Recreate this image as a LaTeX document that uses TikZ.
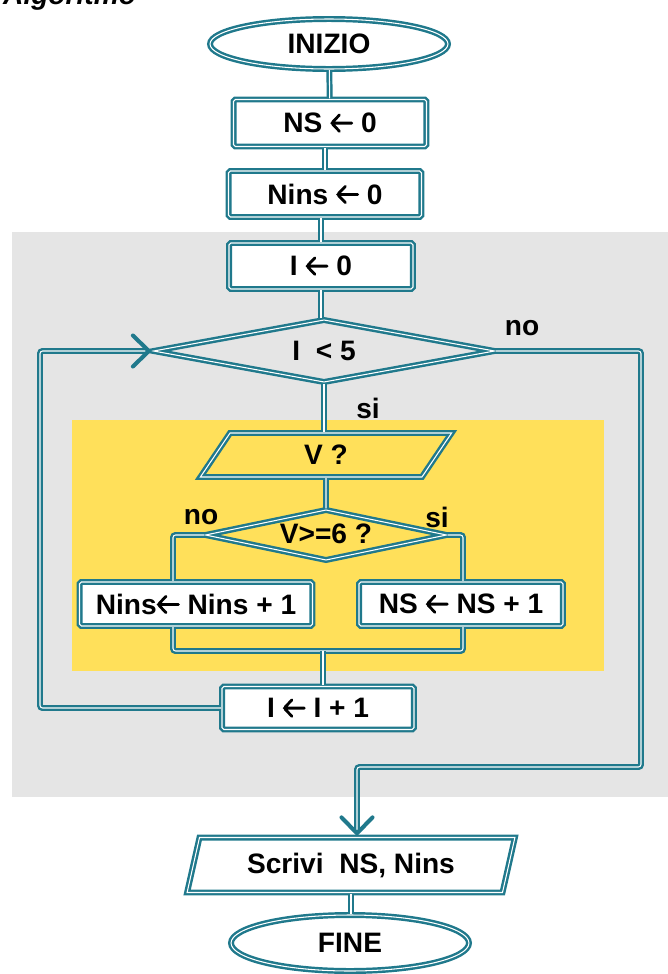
\documentclass[tikz,border=0pt]{standalone}
\usepackage{fontspec}
\setmainfont{Liberation Sans}
\usepackage{tikz}
\usetikzlibrary{arrows.meta, shapes.geometric}

\definecolor{flowteal}{RGB}{32,121,140}
\definecolor{loopgray}{RGB}{229,229,229}
\definecolor{bodyyellow}{RGB}{255,224,90}

% assignment arrow as used in the boxes
\newcommand{\assign}{\tikz[baseline=0pt, x=1em, y=1em]
  \draw[black, line width=0.1em, line cap=round, line join=round]
    (0.78,0.34) -- (0.06,0.34) (0.34,0.63) -- (0.06,0.34) -- (0.34,0.05);}

\begin{document}
\begin{tikzpicture}[x=0.02cm, y=-0.02cm, font=\fontsize{16}{18}\selectfont\bfseries]
        % Define node styles
        \tikzstyle{dblline} = [draw=flowteal, line width=1.4pt, double=white, double distance=0.6pt]
        \tikzstyle{terminal} = [dblline, ellipse, fill=white, minimum width=4.76cm, minimum height=1cm, inner sep=0pt]
        \tikzstyle{process} = [dblline, rectangle, rounded corners=1pt, fill=white, minimum height=0.92cm, inner sep=0pt]
        \tikzstyle{decision} = [dblline, diamond, inner sep=0pt]
        \tikzstyle{io} = [dblline, trapezium, trapezium left angle=71, trapezium right angle=109, trapezium stretches=true, minimum height=0.88cm, inner sep=0pt]
        \tikzstyle{branch} = [inner sep=0pt]
        \tikzstyle{flow} = [dblline, rounded corners=1.5pt]
        \tikzstyle{arrow} = [flow, -{Straight Barb[length=3.2mm, width=6.2mm, line width=2.3pt, line cap=round]}]

        \useasboundingbox (0,0) rectangle (668,974);

        % Background panels
        \fill[loopgray] (12,232) rectangle (668,797);
        \fill[bodyyellow] (72,420) rectangle (604,671);

        \node[anchor=base west, font=\fontsize{16}{18}\selectfont\bfseries\itshape] (title) at (-3,4) {Algoritmo};

        % Draw the nodes
        \node[terminal] (start) at (329,44) {INIZIO};
        \node[process, minimum width=3.86cm, minimum height=0.94cm] (ns0) at (330,123) {NS \assign\ 0};
        \node[process, minimum width=3.86cm] (nins0) at (325,194) {Nins \assign\ 0};
        \node[process, minimum width=3.68cm] (i0) at (321,266) {I \assign\ 0};
        \node[decision, aspect=5.4, minimum width=6.84cm, minimum height=1.26cm] (cond) at (324,351) {I\ \ < 5};
        \node[io, minimum width=5.04cm] (readv) at (326,455) {V ?};
        \node[decision, aspect=4.7, minimum width=4.84cm, minimum height=1.02cm] (test) at (326,535) {\raisebox{2pt}{V>=6 ?}};
        \node[process, minimum width=4.66cm, minimum height=0.88cm] (incnins) at (196,604) {Nins\assign\ Nins + 1};
        \node[process, minimum width=4.08cm, minimum height=0.88cm] (incns) at (461,604) {NS \assign\ NS + 1};
        \node[process, minimum width=3.84cm, minimum height=0.86cm] (inci) at (318,708) {I \assign\ I + 1};
        \node[io, minimum width=6.56cm, minimum height=1.1cm] (write) at (351,865) {Scrivi\ \ NS, Nins};
        \node[terminal, minimum height=1.12cm] (stop) at (350,943) {FINE};

        \node[branch] (condno) at (522,328) {no};
        \node[branch] (condsi) at (368,408) {si};
        \node[branch] (testno) at (201,517) {no};
        \node[branch] (testsi) at (437,517) {si};

        \coordinate (nodown) at (173,651);
        \coordinate (sidown) at (463,651);
        \coordinate (join) at (323,651);
        \coordinate (back) at (40,351);
        \coordinate (exitx) at (641,767);
        \coordinate (turn) at (357,767);

        % Connectors
        \draw[flow] (start) -- (ns0);
        \draw[flow] (nins0.north) -- (nins0.north |- ns0.south);
        \draw[flow] (i0.north) -- (i0.north |- nins0.south);
        \draw[flow] (i0.south) -- (i0.south |- cond.north);
        \draw[flow] (cond.south) -- (cond.south |- readv.north);
        \draw[flow] (readv) -- (test);
        \draw[flow] (test.west) -| (incnins.north -| nodown);
        \draw[flow] (test.east) -| (incns.north -| sidown);
        \draw[flow] (incnins.south -| nodown) -- (nodown) -- (sidown) -- (incns.south -| sidown);
        \draw[flow] (join) -- (inci.north -| join);
        \draw[arrow] (inci.west) -- (inci.west -| back) -- (back) -- (cond.west);
        \draw[arrow] (cond.east) -| (exitx) -- (turn) -- (turn |- write.north);
        \draw[flow] (write.south) -- (write.south |- stop.north);
    \end{tikzpicture}
\end{document}
